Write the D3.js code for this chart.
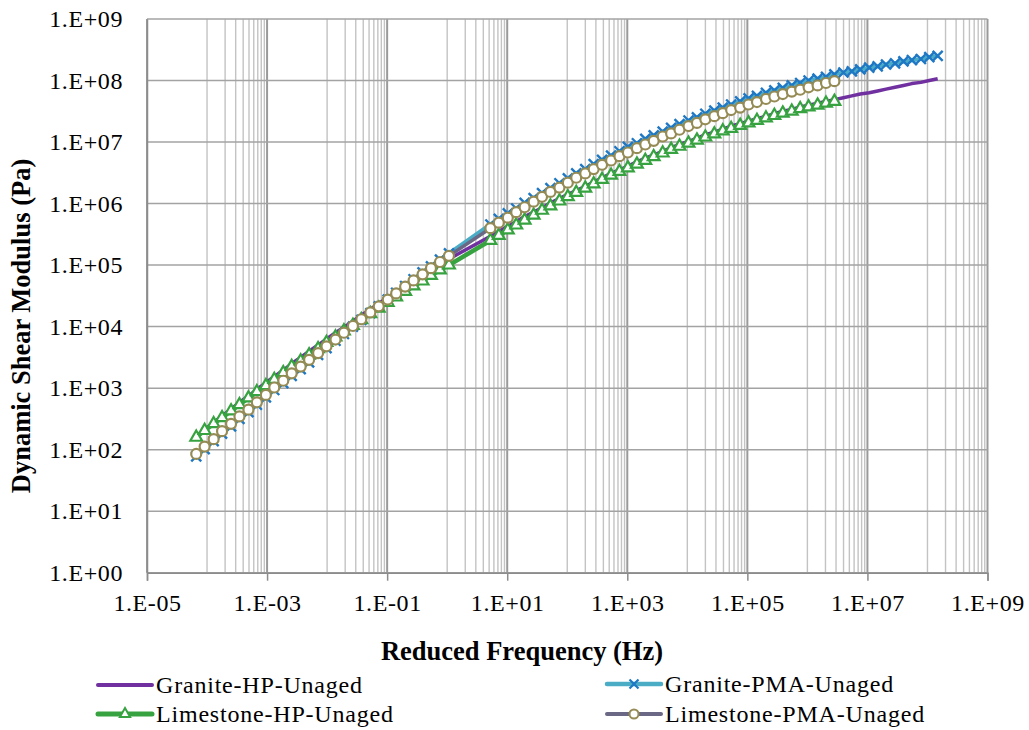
<!DOCTYPE html>
<html>
<head>
    <title>Dynamic Shear Modulus Master Curves</title>
    <script src="https://d3js.org/d3.v7.min.js"></script>
    <style>
        body {
            margin: 0;
            background: #fff;
        }
        svg text {
            font-family: "Liberation Serif", "Times New Roman", serif;
            fill: #000;
        }
    </style>
</head>
<body>
    <svg id="chart" width="1029" height="730"></svg>

    <script>
        // log10 of reduced frequency (Hz)
        const log10FreqLow = [
            -4.18, -4.04, -3.89, -3.75, -3.60, -3.46, -3.31, -3.17, -3.02, -2.88,
            -2.73, -2.59, -2.44, -2.30, -2.15, -2.01, -1.86, -1.72, -1.57, -1.43,
            -1.28, -1.14, -0.99, -0.85, -0.70, -0.56, -0.41, -0.27, -0.12, 0.03
        ];
        const log10FreqHigh = [
            0.72, 0.86, 1.01, 1.15, 1.29, 1.44, 1.58, 1.72, 1.87, 2.01,
            2.15, 2.30, 2.44, 2.58, 2.73, 2.87, 3.01, 3.16, 3.30, 3.44,
            3.59, 3.73, 3.87, 4.02, 4.16, 4.30, 4.45, 4.59, 4.73, 4.88,
            5.02, 5.16, 5.31, 5.45, 5.59, 5.74, 5.88, 6.02, 6.17, 6.31,
            6.45, 6.60, 6.74, 6.88, 7.03, 7.17, 7.31, 7.46, 7.60, 7.74,
            7.89, 8.03, 8.17
        ];

        // log10 of dynamic shear modulus (Pa)
        const graniteHP = [
            2.22, 2.33, 2.44, 2.55, 2.66, 2.77, 2.87, 2.98, 3.09, 3.19,
            3.29, 3.40, 3.50, 3.60, 3.70, 3.80, 3.90, 3.99, 4.09, 4.19,
            4.28, 4.38, 4.47, 4.56, 4.65, 4.75, 4.83, 4.92, 5.01, 5.10,
            5.47, 5.55, 5.63, 5.71, 5.79, 5.86, 5.93, 6.01, 6.08, 6.15,
            6.21, 6.28, 6.35, 6.42, 6.49, 6.55, 6.61, 6.68, 6.74, 6.79,
            6.85, 6.91, 6.96, 7.01, 7.06, 7.12, 7.16, 7.21, 7.26, 7.30,
            7.34, 7.38, 7.42, 7.46, 7.50, 7.53, 7.57, 7.60, 7.63, 7.66,
            7.69, 7.72, 7.75, 7.78, 7.80, 7.83, 7.86, 7.89, 7.92, 7.95,
            7.97, 8.00, 8.03
        ];
        const granitePMA = [
            1.89, 2.01, 2.14, 2.26, 2.38, 2.50, 2.61, 2.73, 2.85, 2.97,
            3.08, 3.20, 3.31, 3.42, 3.54, 3.65, 3.77, 3.88, 4.00, 4.11,
            4.22, 4.33, 4.44, 4.55, 4.66, 4.77, 4.88, 4.98, 5.09, 5.19,
            5.66, 5.75, 5.84, 5.92, 6.01, 6.09, 6.17, 6.25, 6.33, 6.41,
            6.49, 6.56, 6.64, 6.71, 6.78, 6.85, 6.92, 6.98, 7.05, 7.11,
            7.17, 7.23, 7.29, 7.35, 7.40, 7.46, 7.51, 7.56, 7.61, 7.66,
            7.71, 7.75, 7.80, 7.84, 7.88, 7.92, 7.96, 8.00, 8.03, 8.06,
            8.10, 8.13, 8.15, 8.18, 8.21, 8.23, 8.26, 8.28, 8.31, 8.33,
            8.35, 8.38, 8.40
        ];
        const limestoneHP = [
            2.20, 2.31, 2.42, 2.52, 2.63, 2.73, 2.84, 2.94, 3.04, 3.14,
            3.25, 3.35, 3.44, 3.54, 3.64, 3.74, 3.83, 3.93, 4.02, 4.11,
            4.21, 4.30, 4.39, 4.48, 4.57, 4.66, 4.74, 4.83, 4.92, 5.00,
            5.40, 5.48, 5.57, 5.65, 5.73, 5.81, 5.89, 5.96, 6.04, 6.11,
            6.18, 6.25, 6.32, 6.39, 6.46, 6.52, 6.58, 6.64, 6.70, 6.76,
            6.82, 6.88, 6.93, 6.98, 7.03, 7.08, 7.13, 7.18, 7.22, 7.27,
            7.31, 7.35, 7.39, 7.43, 7.47, 7.50, 7.54, 7.57, 7.60, 7.63,
            7.66
        ];
        const limestonePMA = [
            1.93, 2.05, 2.17, 2.30, 2.42, 2.54, 2.65, 2.77, 2.89, 3.01,
            3.12, 3.24, 3.35, 3.46, 3.57, 3.68, 3.79, 3.90, 4.01, 4.12,
            4.23, 4.33, 4.44, 4.54, 4.65, 4.75, 4.85, 4.95, 5.05, 5.15,
            5.60, 5.69, 5.77, 5.86, 5.94, 6.03, 6.11, 6.19, 6.26, 6.34,
            6.42, 6.49, 6.56, 6.63, 6.70, 6.77, 6.83, 6.90, 6.96, 7.02,
            7.09, 7.14, 7.20, 7.26, 7.31, 7.37, 7.42, 7.47, 7.52, 7.56,
            7.61, 7.65, 7.70, 7.74, 7.78, 7.82, 7.85, 7.89, 7.92, 7.96,
            7.99
        ];

        const seriesNames = [
            'Granite-HP-Unaged', 'Granite-PMA-Unaged',
            'Limestone-HP-Unaged', 'Limestone-PMA-Unaged'
        ];
        const xTickExponents = [-5, -3, -1, 1, 3, 5, 7, 9];
        const yTickExponents = [0, 1, 2, 3, 4, 5, 6, 7, 8, 9];

        const log10Freq = log10FreqLow.concat(log10FreqHigh);

        function buildPoints(values) {
            return values.map((v, i) => ({ f: Math.pow(10, log10Freq[i]), g: Math.pow(10, v) }));
        }

        const series = [
            { name: seriesNames[0], points: buildPoints(graniteHP),
              line: '#7030a0', width: 3.5, marker: 'none' },
            { name: seriesNames[1], points: buildPoints(granitePMA),
              line: '#4bacc6', width: 4, marker: 'x', markerColor: '#1f78c4' },
            { name: seriesNames[2], points: buildPoints(limestoneHP),
              line: '#37a340', width: 4.5, marker: 'triangle', markerColor: '#37a340' },
            { name: seriesNames[3], points: buildPoints(limestonePMA),
              line: '#6b6886', width: 3.5, marker: 'circle', markerColor: '#958b55' }
        ];

        const svg = d3.select('#chart');
        const plot = { left: 147, right: 987.5, top: 19, bottom: 572.7 };

        const x = d3.scaleLog().domain([1e-5, 1e9]).range([plot.left, plot.right]);
        const y = d3.scaleLog().domain([1, 1e9]).range([plot.bottom, plot.top]);

        // Vertical gridlines: major every 100x, minor at m * 10 * major
        const grid = svg.append('g');
        const minorX = [];
        xTickExponents.slice(0, -1).forEach(e => {
            for (let m = 1; m <= 9; m++) minorX.push(m * Math.pow(10, e + 1));
        });
        grid.selectAll('.vminor')
            .data(minorX)
            .enter().append('line')
            .attr('x1', d => x(d)).attr('x2', d => x(d))
            .attr('y1', plot.top).attr('y2', plot.bottom)
            .attr('stroke', '#c3c3c3')
            .attr('stroke-width', 1.4);

        grid.selectAll('.vmajor')
            .data(xTickExponents)
            .enter().append('line')
            .attr('x1', d => x(Math.pow(10, d))).attr('x2', d => x(Math.pow(10, d)))
            .attr('y1', plot.top).attr('y2', plot.bottom)
            .attr('stroke', '#9a9a9a')
            .attr('stroke-width', 2);

        grid.selectAll('.hmajor')
            .data(yTickExponents)
            .enter().append('line')
            .attr('x1', plot.left).attr('x2', plot.right)
            .attr('y1', d => y(Math.pow(10, d))).attr('y2', d => y(Math.pow(10, d)))
            .attr('stroke', '#a3a3a3')
            .attr('stroke-width', 1.5);

        // Axes
        const fmt = e => '1.E' + (e < 0 ? '-' : '+') + String(Math.abs(e)).padStart(2, '0');

        const xAxis = d3.axisBottom(x)
            .tickValues(xTickExponents.map(e => Math.pow(10, e)))
            .tickFormat(d => fmt(Math.round(Math.log10(d))))
            .tickSize(8)
            .tickPadding(13);
        const gx = svg.append('g')
            .attr('transform', `translate(0,${plot.bottom})`)
            .call(xAxis);
        gx.select('.domain').attr('stroke', '#8c8c8c').attr('stroke-width', 1.5);
        gx.selectAll('.tick line').attr('stroke', '#8c8c8c').attr('stroke-width', 1.5);
        gx.selectAll('.tick text')
            .attr('font-size', 24)
            .style('letter-spacing', '0.6px')
            .style('font-family', '"Liberation Serif", serif');

        const yAxis = d3.axisLeft(y)
            .tickValues(yTickExponents.map(e => Math.pow(10, e)))
            .tickFormat(d => fmt(Math.round(Math.log10(d))))
            .tickSize(0)
            .tickPadding(24);
        const gy = svg.append('g')
            .attr('transform', `translate(${plot.left},0)`)
            .call(yAxis);
        gy.select('.domain').attr('stroke', '#8c8c8c').attr('stroke-width', 1.5);
        gy.selectAll('.tick text')
            .attr('font-size', 24)
            .style('letter-spacing', '0.6px')
            .style('font-family', '"Liberation Serif", serif');

        // Series
        const lineGen = d3.line().x(d => x(d.f)).y(d => y(d.g));
        const triangle = d3.symbol().type(d3.symbolTriangle).size(60);
        const xMark = 'M-5,-5L5,5M-5,5L5,-5';

        series.forEach(s => {
            const g = svg.append('g');
            g.append('path')
                .attr('d', lineGen(s.points))
                .attr('fill', 'none')
                .attr('stroke', s.line)
                .attr('stroke-width', s.width)
                .attr('stroke-linejoin', 'round');

            if (s.marker === 'circle') {
                g.selectAll('circle').data(s.points).enter().append('circle')
                    .attr('cx', d => x(d.f)).attr('cy', d => y(d.g))
                    .attr('r', 5)
                    .attr('fill', '#fff')
                    .attr('stroke', s.markerColor)
                    .attr('stroke-width', 2.2);
            } else if (s.marker === 'triangle') {
                g.selectAll('.tri').data(s.points).enter().append('path')
                    .attr('transform', d => `translate(${x(d.f)},${y(d.g)})`)
                    .attr('d', triangle)
                    .attr('fill', '#fff')
                    .attr('stroke', s.markerColor)
                    .attr('stroke-width', 2.2);
            } else if (s.marker === 'x') {
                g.selectAll('.xm').data(s.points).enter().append('path')
                    .attr('transform', d => `translate(${x(d.f)},${y(d.g)})`)
                    .attr('d', xMark)
                    .attr('stroke', s.markerColor)
                    .attr('stroke-width', 2.4)
                    .attr('fill', 'none');
            }
        });

        // Axis titles
        svg.append('text')
            .attr('x', 522)
            .attr('y', 660)
            .attr('text-anchor', 'middle')
            .attr('font-size', 26.5)
            .attr('font-weight', 'bold')
            .text('Reduced Frequency (Hz)');

        svg.append('text')
            .attr('transform', 'translate(30,326) rotate(-90)')
            .attr('text-anchor', 'middle')
            .attr('font-size', 26.5)
            .attr('font-weight', 'bold')
            .text('Dynamic Shear Modulus (Pa)');

        // Legend
        const legendPos = [
            { x: 98, y: 685 }, { x: 607, y: 684 },
            { x: 98, y: 714 }, { x: 607, y: 714 }
        ];
        const legend = svg.append('g');
        series.forEach((s, i) => {
            const p = legendPos[i];
            const item = legend.append('g').attr('transform', `translate(${p.x},${p.y})`);
            item.append('line')
                .attr('x1', 0).attr('x2', 54)
                .attr('stroke', s.line)
                .attr('stroke-width', s.width + 0.5)
                .attr('stroke-linecap', 'round');
            if (s.marker === 'circle') {
                item.append('circle').attr('cx', 27).attr('r', 4.5)
                    .attr('fill', '#fff').attr('stroke', s.markerColor).attr('stroke-width', 2);
            } else if (s.marker === 'triangle') {
                item.append('path').attr('transform', 'translate(27,0)')
                    .attr('d', d3.symbol().type(d3.symbolTriangle).size(45)())
                    .attr('fill', '#fff').attr('stroke', s.markerColor).attr('stroke-width', 2);
            } else if (s.marker === 'x') {
                item.append('path').attr('transform', 'translate(27,0)')
                    .attr('d', 'M-4.5,-4.5L4.5,4.5M-4.5,4.5L4.5,-4.5')
                    .attr('stroke', s.markerColor).attr('stroke-width', 2.2);
            }
            item.append('text')
                .attr('x', 58)
                .attr('y', 8)
                .attr('font-size', 24)
                .style('letter-spacing', '0.8px')
                .text(s.name);
        });
    </script>
</body>
</html>
